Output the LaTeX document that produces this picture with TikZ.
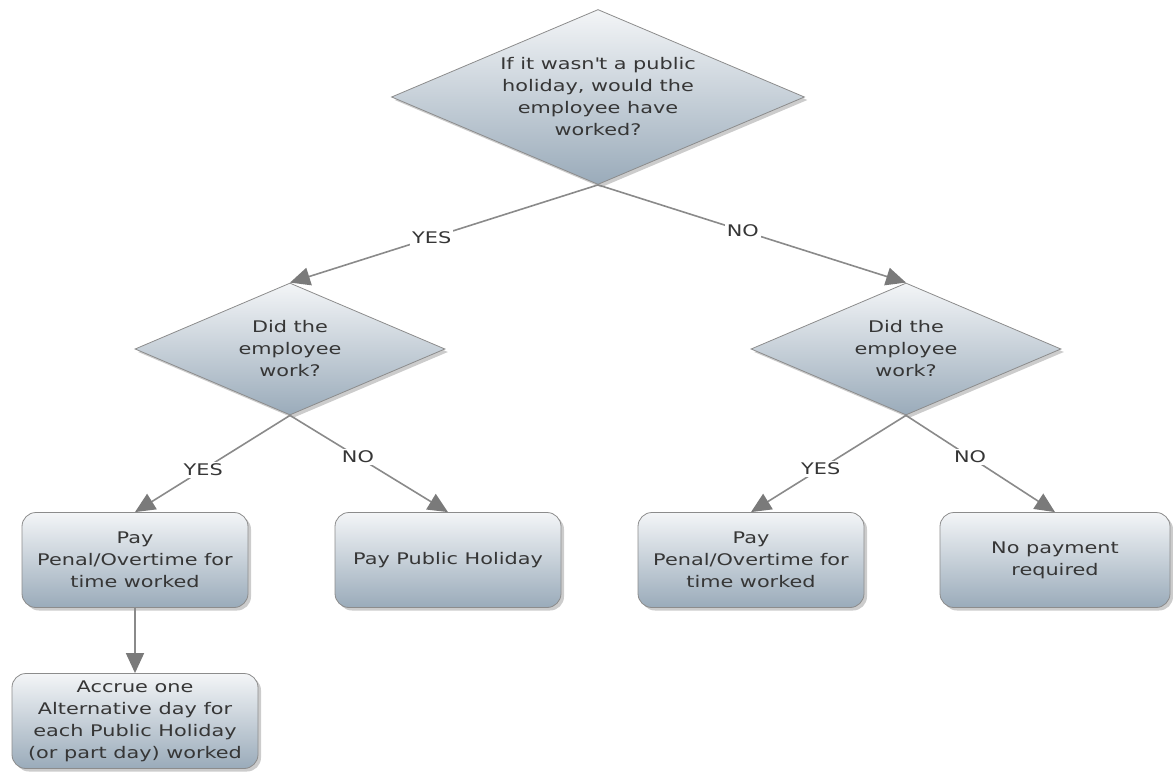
\documentclass[tikz,border=0pt]{standalone}
\usepackage{fontspec}
\setmainfont{DejaVu Sans}[FakeStretch=1.3]
\usetikzlibrary{shapes.geometric,shadows,arrows.meta}
\definecolor{boxtop}{HTML}{F3F5F7}
\definecolor{boxbot}{HTML}{9AABBA}
\definecolor{edgegray}{HTML}{8C8C8C}
\definecolor{txtgray}{HTML}{363636}
\definecolor{arrgray}{HTML}{8A8A8A}
\definecolor{tipgray}{HTML}{7A7A7A}
\tikzset{
  shadebox/.style={draw=edgegray,line width=0.8pt,top color=boxtop,bottom color=boxbot,
    drop shadow={shadow xshift=3pt,shadow yshift=-3pt,opacity=0.4},
    text=txtgray,align=center,font=\fontsize{16}{22}\selectfont},
  question/.style={shadebox,diamond,aspect=2.36,inner sep=0pt},
  result/.style={shadebox,rectangle,rounded corners=14pt,minimum width=226pt,minimum height=95pt},
  link/.style={arrgray,line width=1.6pt,-{Triangle[length=20pt,width=18pt,color=tipgray]}},
  answer/.style={fill=white,text=txtgray,inner sep=2pt,font=\fontsize{16}{20}\selectfont}
}
\begin{document}
\begin{tikzpicture}[x=1pt,y=-1pt]
        \useasboundingbox (0,0) rectangle (1173,776);
        \node[question,minimum width=413pt,minimum height=175pt] (ifwork) at (598,97) {If it wasn\textquotesingle t a public\\holiday, would the\\employee have\\worked?};
        \node[question,minimum width=310pt,minimum height=132pt] (didyes) at (290,349) {Did the\\employee\\work?};
        \node[question,minimum width=310pt,minimum height=132pt] (didno) at (906,349) {Did the\\employee\\work?};
        \node[result] (penal1) at (135,560) {Pay\\Penal/Overtime for\\time worked};
        \node[result] (pubhol) at (448,560) {Pay Public Holiday};
        \node[result] (penal2) at (751,560) {Pay\\Penal/Overtime for\\time worked};
        \node[result,minimum width=230pt] (nopay) at (1055,560) {No payment\\required};
        \node[result,minimum width=246pt] (accrue) at (135,721) {Accrue one\\Alternative day for\\each Public Holiday\\(or part day) worked};
        \draw[link] (ifwork.south) -- node[answer,pos=0.54]{YES} (didyes.north);
        \draw[link] (ifwork.south) -- node[answer,pos=0.47]{NO} (didno.north);
        \draw[link] (didyes.south) -- node[answer,pos=0.56]{YES} (penal1.north);
        \draw[link] (didyes.south) -- node[answer,pos=0.43]{NO} (pubhol.north);
        \draw[link] (didno.south) -- node[answer,pos=0.55]{YES} (penal2.north);
        \draw[link] (didno.south) -- node[answer,pos=0.43]{NO} (nopay.north);
        \draw[link] (penal1.south) -- (accrue.north);
\end{tikzpicture}
\end{document}
